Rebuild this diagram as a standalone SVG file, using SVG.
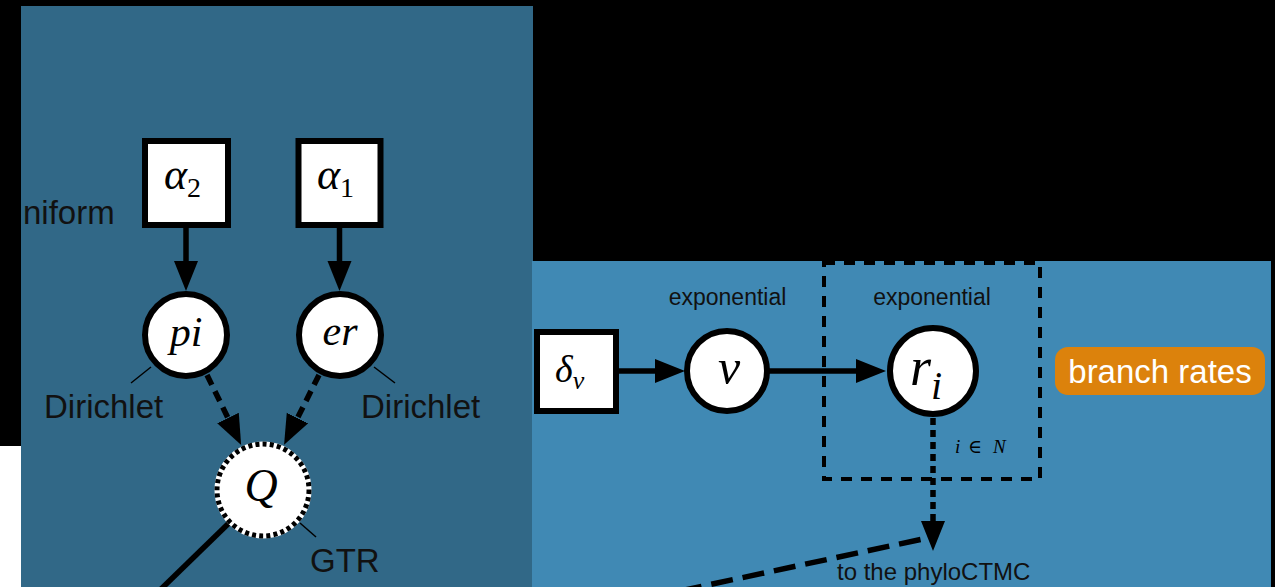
<svg xmlns="http://www.w3.org/2000/svg" width="1275" height="587" viewBox="0 0 1275 587">
<style>
.sans{font-family:"Liberation Sans",Arial,sans-serif;fill:#111}
.math{font-family:"Liberation Serif","DejaVu Serif",serif;font-style:italic;fill:#000}
.up{font-style:normal}
.box{fill:#fff;stroke:#000;stroke-width:6}
.circ{fill:#fff;stroke:#000;stroke-width:6}
.edge{stroke:#000;stroke-width:5.5;fill:none}
.tick{stroke:#000;stroke-width:1.5;fill:none}
</style>
<defs>
<marker id="ah" markerUnits="userSpaceOnUse" markerWidth="32" markerHeight="26" viewBox="0 -13 32 26" refX="0" refY="0" orient="auto">
<path d="M0,-12 L30,0 L0,12 z" fill="#000"/>
</marker>
</defs>
<rect x="0" y="0" width="1275" height="587" fill="#000"/>
<rect x="0" y="446" width="21" height="141" fill="#fff"/>
<rect x="21" y="6" width="512" height="581" fill="#316887"/>
<rect x="532" y="261" width="739" height="326" fill="#4089b4"/>

<g id="connectors">
<line class="edge" x1="186" y1="228" x2="186" y2="261" marker-end="url(#ah)"/>
<line class="edge" x1="339.5" y1="228" x2="339.5" y2="261" marker-end="url(#ah)"/>
<line class="edge" x1="207" y1="375" x2="228" y2="418" stroke-width="8" stroke-dasharray="11 7" marker-end="url(#ah)"/>
<line class="edge" x1="319" y1="375" x2="297.5" y2="418" stroke-width="8" stroke-dasharray="11 7" marker-end="url(#ah)"/>
<line class="edge" x1="229" y1="523" x2="158" y2="592" stroke-width="6"/>
<line class="edge" x1="618" y1="371" x2="655" y2="371" marker-end="url(#ah)"/>
<line class="edge" x1="768" y1="371" x2="856" y2="371" marker-end="url(#ah)"/>
<line class="edge" x1="933" y1="418" x2="933" y2="521" stroke-width="7" stroke-dasharray="7 5" marker-end="url(#ah)"/>
<line class="edge" x1="680" y1="591" x2="932" y2="537" stroke-width="9" stroke-dasharray="22 10"/>
</g>

<g id="plate">
<rect x="824" y="263" width="216" height="216" fill="none" stroke="#000" stroke-width="4" stroke-dasharray="11 9"/>
<text class="math" y="453" font-size="19" fill="#1c1c1c"><tspan x="955">i</tspan><tspan class="up" x="968">∈</tspan><tspan x="993">N</tspan></text>
</g>

<g id="uniform-label">
<text class="sans" x="23" y="224" font-size="33">niform</text>
</g>

<g id="alpha2">
<rect class="box" x="145" y="141" width="83" height="84"/>
<text class="math" x="164" y="189" font-size="44">α<tspan class="up" font-size="28" dy="8">2</tspan></text>
</g>
<g id="alpha1">
<rect class="box" x="298.5" y="141" width="82" height="84"/>
<text class="math" x="317" y="189" font-size="44">α<tspan class="up" font-size="28" dy="8">1</tspan></text>
</g>

<g id="pi">
<circle class="circ" cx="186" cy="335" r="41"/>
<text class="math" x="186" y="346" font-size="42" text-anchor="middle">pi</text>
<line class="tick" x1="151" y1="367" x2="131" y2="383"/>
<text class="sans" x="44" y="418" font-size="33">Dirichlet</text>
</g>
<g id="er">
<circle class="circ" cx="340" cy="335" r="41"/>
<text class="math" x="340" y="345" font-size="42" text-anchor="middle">er</text>
<line class="tick" x1="374" y1="367" x2="395" y2="383"/>
<text class="sans" x="361" y="418" font-size="33">Dirichlet</text>
</g>
<g id="Q">
<circle cx="263" cy="490" r="46" fill="#fff" stroke="#fff" stroke-width="5"/>
<circle cx="263" cy="490" r="46" fill="none" stroke="#000" stroke-width="5" stroke-dasharray="4 3.2"/>
<text class="math" x="261" y="501" font-size="46" text-anchor="middle">Q</text>
<line class="tick" x1="300" y1="523" x2="316" y2="537"/>
<text class="sans" x="310" y="572" font-size="33">GTR</text>
</g>

<g id="delta">
<rect class="box" x="537" y="332" width="79" height="79"/>
<text class="math" x="555" y="382" font-size="38">δ<tspan font-size="26" dy="7">ν</tspan></text>
</g>
<g id="nu">
<circle class="circ" cx="727" cy="371" r="40"/>
<text class="math" x="729" y="384" font-size="50" text-anchor="middle">ν</text>
<text class="sans" x="727.5" y="305" font-size="23" text-anchor="middle">exponential</text>
</g>
<g id="r">
<circle class="circ" cx="933" cy="371" r="43"/>
<text class="math" x="910" y="385" font-size="54">r<tspan font-size="40" dy="14">i</tspan></text>
<text class="sans" x="932" y="305" font-size="23" text-anchor="middle">exponential</text>
</g>

<g id="phylo-label">
<text class="sans" x="837" y="580" font-size="24">to the phyloCTMC</text>
</g>

<g id="branch-rates">
<rect x="1055" y="347" width="210" height="48" rx="13" fill="#dc820c"/>
<text x="1160" y="383" font-size="33" text-anchor="middle" font-family="Liberation Sans, Arial, sans-serif" fill="#fff">branch rates</text>
</g>
</svg>
